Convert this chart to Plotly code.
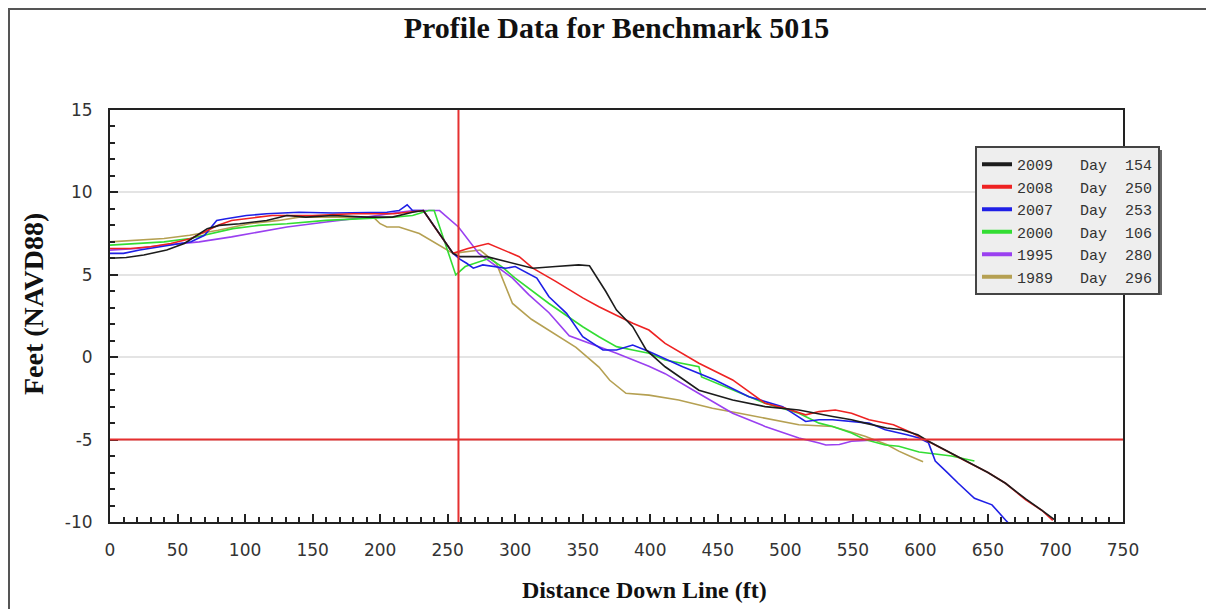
import plotly.graph_objects as go

# ---------------- data ----------------
years = ["2009", "2008", "2007", "2000", "1995", "1989"]
days = ["154", "250", "253", "106", "280", "296"]
colors = ["#1c1c1c", "#ee2222", "#1f1fe6", "#33dd33", "#9a40f0", "#b5a052"]

x_2009 = [0, 12, 25, 42, 55, 64, 72, 81, 96, 116, 131, 145, 165, 190, 209, 224, 232, 254, 259, 279,
          298, 313, 330, 347, 355, 360, 367, 375, 387, 397, 411, 436, 461, 485, 510, 535, 549, 559,
          575, 586, 598, 606, 622, 636, 650, 663, 678, 690, 700]
y_2009 = [6.0, 6.05, 6.2, 6.5, 6.9, 7.4, 7.8, 8.0, 8.1, 8.3, 8.6, 8.5, 8.6, 8.5, 8.5, 8.8, 8.9, 6.3,
          6.1, 6.1, 5.7, 5.4, 5.5, 5.6, 5.55, 4.9, 4.0, 2.86, 1.85, 0.44, -0.58, -2.0, -2.6, -3.0,
          -3.2, -3.6, -3.8, -4.0, -4.3, -4.4, -4.7, -5.1, -5.8, -6.4, -7.0, -7.65, -8.6, -9.3, -9.9]

x_2008 = [0, 15, 30, 45, 60, 70, 80, 90, 100, 120, 150, 180, 210, 232, 242, 254, 265, 274, 280, 303,
          313, 330, 350, 362, 375, 387, 399, 411, 436, 461, 485, 500, 515, 525, 537, 549, 562, 580,
          594, 606, 620, 636, 650, 663, 678, 690, 698]
y_2008 = [6.6, 6.6, 6.7, 6.9, 7.2, 7.6, 8.0, 8.3, 8.4, 8.6, 8.6, 8.7, 8.7, 8.9, 7.7, 6.3, 6.6, 6.8,
          6.9, 6.1, 5.4, 4.6, 3.6, 3.06, 2.56, 2.06, 1.65, 0.84, -0.37, -1.38, -2.8, -3.1, -3.5,
          -3.3, -3.2, -3.4, -3.8, -4.1, -4.6, -5.1, -5.7, -6.4, -7.0, -7.65, -8.66, -9.3, -9.9]

x_2007 = [0, 10, 22, 37, 50, 60, 70, 74, 79, 86, 101, 116, 140, 165, 190, 205, 214, 220, 224, 232,
          254, 259, 264, 269, 276, 281, 293, 300, 316, 325, 338, 350, 358, 365, 375, 387, 399, 424,
          448, 473, 498, 515, 525, 535, 562, 574, 590, 599, 606, 611, 620, 628, 640, 653, 663, 668]
y_2007 = [6.3, 6.3, 6.5, 6.7, 6.9, 7.0, 7.4, 7.8, 8.3, 8.4, 8.6, 8.7, 8.8, 8.75, 8.8, 8.8, 8.9, 9.25,
          8.9, 8.9, 6.3, 5.95, 5.7, 5.4, 5.6, 5.55, 5.4, 5.5, 4.8, 3.67, 2.66, 1.24, 0.8, 0.44, 0.44,
          0.74, 0.35, -0.58, -1.38, -2.4, -3.0, -3.9, -3.8, -3.8, -4.0, -4.4, -4.7, -4.9, -5.2, -6.3,
          -7.0, -7.65, -8.56, -8.96, -9.88, -10.3]

x_2000 = [0, 20, 40, 59, 75, 91, 110, 131, 160, 190, 210, 224, 236, 240, 248, 256, 263, 273, 281,
          290, 300, 325, 350, 362, 375, 387, 399, 411, 436, 438, 461, 485, 510, 525, 535, 549, 559,
          574, 584, 599, 623, 640]
y_2000 = [6.8, 6.9, 7.0, 7.2, 7.5, 7.8, 8.0, 8.1, 8.3, 8.4, 8.5, 8.6, 8.9, 8.9, 7.0, 4.99, 5.5, 5.8,
          6.0, 5.5, 4.8, 3.26, 1.85, 1.24, 0.64, 0.44, 0.24, -0.17, -0.58, -1.2, -2.0, -2.8, -3.4,
          -4.0, -4.2, -4.6, -5.0, -5.33, -5.4, -5.75, -6.0, -6.3]

x_1995 = [0, 20, 40, 66, 90, 110, 131, 160, 190, 214, 225, 244, 258, 273, 286, 298, 310, 325, 340,
          350, 362, 375, 399, 411, 436, 461, 485, 510, 525, 530, 540, 549, 570, 590]
y_1995 = [6.5, 6.6, 6.8, 7.0, 7.3, 7.6, 7.9, 8.2, 8.5, 8.8, 8.9, 8.9, 7.9, 6.3, 5.5, 4.8, 3.8, 2.7,
          1.3, 1.0, 0.6, 0.24, -0.55, -1.0, -2.2, -3.4, -4.2, -4.9, -5.2, -5.33, -5.3, -5.1, -5.0, -4.95]

x_1989 = [0, 20, 40, 59, 80, 103, 125, 140, 170, 195, 200, 205, 214, 229, 254, 265, 274, 286, 292,
          298, 312, 325, 345, 362, 370, 382, 399, 421, 446, 466, 485, 510, 535, 559, 575, 584, 592, 602]
y_1989 = [7.0, 7.1, 7.2, 7.4, 7.7, 8.1, 8.3, 8.5, 8.5, 8.5, 8.1, 7.9, 7.9, 7.5, 6.3, 6.4, 6.5, 5.7,
          4.5, 3.26, 2.3, 1.65, 0.6, -0.6, -1.4, -2.19, -2.3, -2.6, -3.1, -3.4, -3.7, -4.1, -4.2, -4.8,
          -5.3, -5.7, -6.0, -6.35]

xs_all = [x_2009, x_2008, x_2007, x_2000, x_1995, x_1989]
ys_all = [y_2009, y_2008, y_2007, y_2000, y_1995, y_1989]

ref_x = 258      # red vertical reference line (ft)
ref_y = -5       # red horizontal reference line (ft)

x_ticks = list(range(0, 751, 50))
y_ticks = [-10, -5, 0, 5, 10, 15]
y_ticklabels = ["-10", "-5", "0", "5", "10", "15"]

title_text = "Profile Data for Benchmark 5015"
x_title = "Distance Down Line (ft)"
y_title = "Feet (NAVD88)"

# ---------------- figure geometry ----------------
OFF = 8                      # page body margin
W, H = 1214 - OFF, 609 - OFF
PL, PR, PT, PB = 110, 1123, 110, 522   # plot box in page pixels
ML, MR, MT, MB = PL - OFF, W - (PR - OFF), PT - OFF, H - (PB - OFF)
PW, PH = PR - PL, PB - PT


def px_x(px):   # page pixel -> paper x
    return (px - PL) / PW


def px_y(py):   # page pixel -> paper y
    return (PB - py) / PH


fig = go.Figure()

# data lines (oldest first so newer surveys sit on top)
for i in reversed(range(len(years))):
    fig.add_trace(go.Scatter(
        x=xs_all[i], y=ys_all[i], mode="lines",
        line=dict(color=colors[i], width=1.6),
        showlegend=False, hoverinfo="skip"))

# legend entries
NB = "\u00a0"
for i in range(len(years)):
    fig.add_trace(go.Scatter(
        x=[None], y=[None], mode="lines",
        line=dict(color=colors[i], width=4),
        name=years[i] + NB * 3 + "Day" + NB * 2 + days[i]))

# reference lines
fig.add_shape(type="line", xref="x", yref="paper", x0=ref_x, x1=ref_x, y0=0, y1=1,
              line=dict(color="#e53030", width=2), layer="above")
fig.add_shape(type="line", xref="paper", yref="y", x0=0, x1=1, y0=ref_y, y1=ref_y,
              line=dict(color="#e53030", width=2), layer="above")

# legend drop shadow
fig.add_shape(type="rect", xref="paper", yref="paper",
              x0=px_x(979), x1=px_x(1162),
              y0=px_y(295), y1=px_y(150),
              line=dict(width=0), fillcolor="#666666", layer="above")

# outer image border
fig.add_shape(type="line", xref="paper", yref="paper",
              x0=px_x(OFF), x1=px_x(1214), y0=px_y(OFF + 1), y1=px_y(OFF + 1),
              line=dict(color="#555555", width=2), layer="above")
fig.add_shape(type="line", xref="paper", yref="paper",
              x0=px_x(OFF + 1), x1=px_x(OFF + 1), y0=px_y(OFF + 1), y1=px_y(609),
              line=dict(color="#555555", width=2), layer="above")

# axis titles
fig.add_annotation(text=x_title, xref="paper", yref="paper",
                   x=px_x(644), y=px_y(590), showarrow=False,
                   xanchor="center", yanchor="middle",
                   font=dict(family="Liberation Serif", size=24, color="#111111", weight="bold"))
fig.add_annotation(text=y_title, xref="paper", yref="paper",
                   x=px_x(33), y=px_y(304), showarrow=False, textangle=-90,
                   xanchor="center", yanchor="middle",
                   font=dict(family="Liberation Serif", size=28, color="#111111", weight="bold"))

axis_common = dict(
    showline=True, linecolor="#222222", linewidth=2, mirror=True,
    ticks="inside", tickcolor="#222222", tickwidth=2, ticklen=8,
    tickfont=dict(family="DejaVu Sans", size=17, color="#333333"),
    zeroline=False, automargin=False,
)

fig.update_xaxes(
    range=[0, 750], tickvals=x_ticks, showgrid=False,
    minor=dict(dtick=10, ticks="inside", ticklen=5, tickwidth=2, tickcolor="#222222", showgrid=False),
    ticklabelstandoff=12,
    **axis_common)
fig.update_yaxes(
    range=[-10, 15], tickvals=y_ticks, ticktext=y_ticklabels,
    showgrid=True, gridcolor="#e4e4e4", gridwidth=2,
    minor=dict(dtick=1, ticks="inside", ticklen=5, tickwidth=2, tickcolor="#222222", showgrid=False),
    ticklabelstandoff=12,
    **axis_common)

fig.update_layout(
    width=W, height=H,
    margin=dict(l=ML, r=MR, t=MT, b=MB, autoexpand=False),
    paper_bgcolor="white", plot_bgcolor="white",
    title=dict(text=title_text, x=0.5, xref="paper", xanchor="center",
               y=1 - (27 - OFF) / H, yanchor="middle",
               font=dict(family="Liberation Serif", size=30, color="#111111", weight="bold")),
    legend=dict(x=px_x(975), y=px_y(146), xanchor="left", yanchor="top",
                bgcolor="#eeeeee", bordercolor="#444444", borderwidth=2,
                font=dict(family="Liberation Mono", size=15, color="#333333")),
    showlegend=True,
)

fig.write_html("out.html")
